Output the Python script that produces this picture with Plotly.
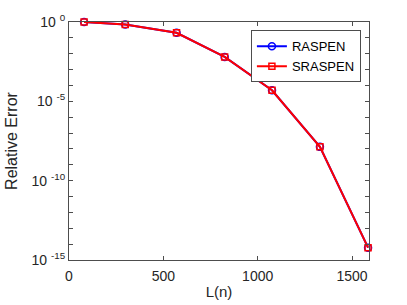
import plotly.graph_objects as go

L_n = [80, 298, 570, 825, 1076, 1330, 1585]
raspen = [1.0, 0.70, 0.21, 6.3e-3, 5.0e-5, 1.35e-8, 6.0e-15]
sraspen = [1.0, 0.70, 0.21, 6.3e-3, 5.0e-5, 1.35e-8, 6.0e-15]

y_exponents = list(range(-15, 1))
y_tick_vals = [10.0 ** e for e in y_exponents]
y_tick_text = [("10 <sup>%d</sup>" % e) if e % 5 == 0 else "" for e in y_exponents]
x_tick_vals = [0, 500, 1000, 1500]

FONT = "Liberation Sans, Arial, Helvetica, sans-serif"
AX = "#4d4d4d"

fig = go.Figure()
fig.add_trace(go.Scatter(
    x=L_n, y=raspen, name="RASPEN", mode="lines+markers",
    line=dict(color="#0000ff", width=2),
    marker=dict(symbol="circle-open", size=7, color="#0000ff", line=dict(width=1.5)),
    cliponaxis=False,
))
fig.add_trace(go.Scatter(
    x=L_n, y=sraspen, name="SRASPEN", mode="lines+markers",
    line=dict(color="#ff0000", width=2),
    marker=dict(symbol="square-open", size=6, color="#ff0000", line=dict(width=1.5)),
    cliponaxis=False,
))

fig.update_layout(
    width=407, height=305,
    margin=dict(l=69, r=38, t=22, b=45, autoexpand=False),
    paper_bgcolor="white", plot_bgcolor="white",
    font=dict(family=FONT, size=14, color="#262626"),
    showlegend=True,
    legend=dict(
        x=0.973, y=0.965, xanchor="right", yanchor="top",
        bgcolor="white", bordercolor=AX, borderwidth=1,
        font=dict(size=13, color="#000000"),
        tracegroupgap=0, itemwidth=30,
    ),
    xaxis=dict(
        range=[0, 1590], tickvals=x_tick_vals, automargin=False,
        showgrid=False, zeroline=False,
        showline=True, linecolor=AX, linewidth=1, mirror="ticks",
        ticks="inside", ticklen=4, tickcolor=AX,
        tickfont=dict(size=14, color="#262626"),
        ticklabelstandoff=3,
        title=dict(text="L(n)", font=dict(size=15, color="#262626"), standoff=3),
    ),
    yaxis=dict(
        type="log", range=[-15, 0], automargin=False,
        tickvals=y_tick_vals, ticktext=y_tick_text,
        showgrid=False, zeroline=False,
        showline=True, linecolor=AX, linewidth=1, mirror="ticks",
        ticks="inside", ticklen=4, tickcolor=AX,
        tickfont=dict(size=14, color="#262626"),
        title=dict(text="Relative Error", font=dict(size=16, color="#262626"), standoff=9),
    ),
)

fig.write_html(
    "out.html",
    config={"displayModeBar": False},
    post_script="document.body.style.margin='0';document.body.style.overflow='hidden';",
)
